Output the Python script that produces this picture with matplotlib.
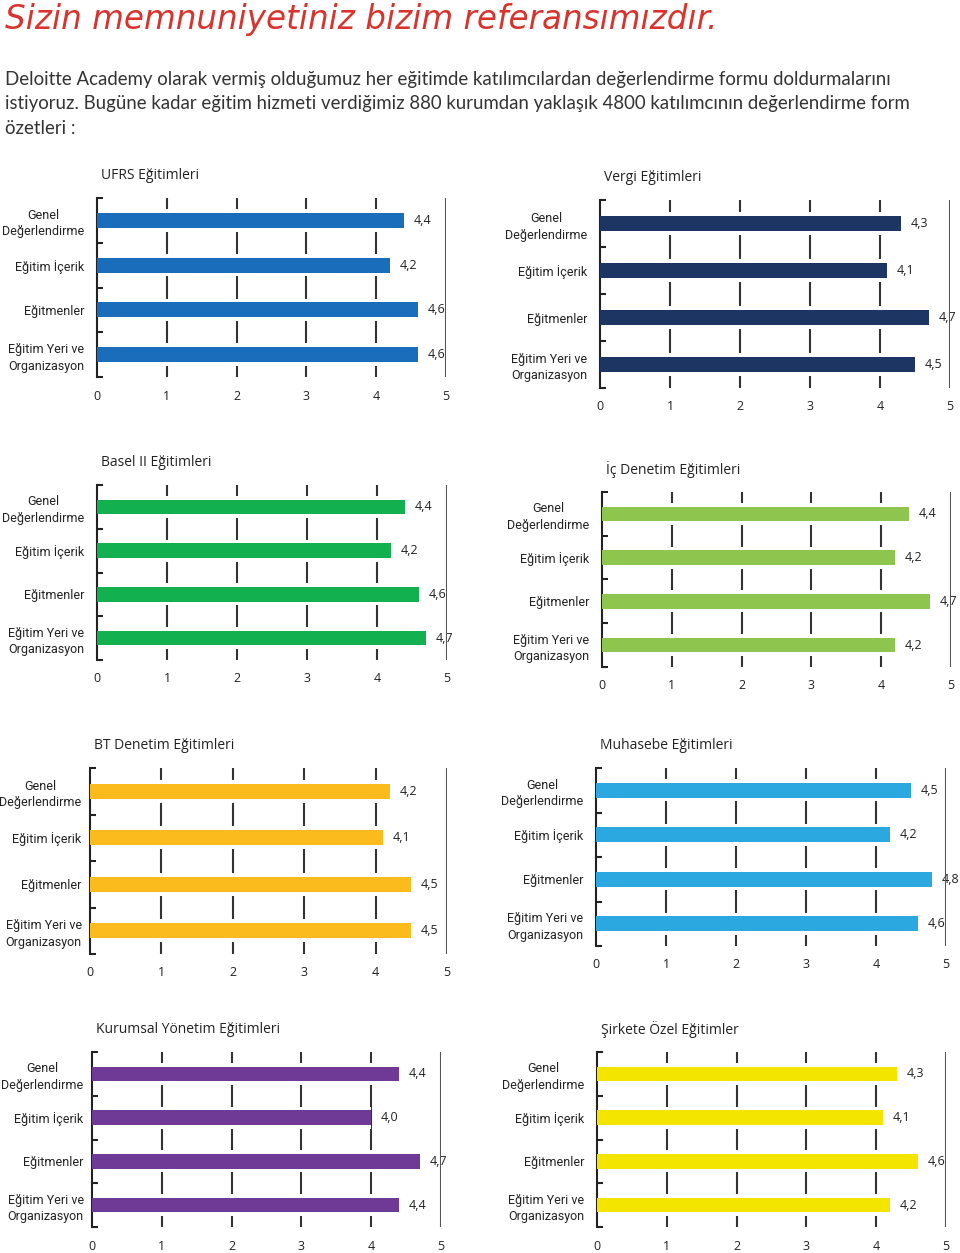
import numpy as np
import matplotlib
matplotlib.use('Agg')
import matplotlib.pyplot as plt
from matplotlib.ticker import FixedLocator

plt.rcParams['font.family'] = ['Open Sans', 'DejaVu Sans']

# --- data -------------------------------------------------------------
categories = ['Genel\nDeğerlendirme', 'Eğitim İçerik', 'Eğitmenler',
              'Eğitim Yeri ve\nOrganizasyon']

titles = ['UFRS Eğitimleri', 'Vergi Eğitimleri',
          'Basel II Eğitimleri', 'İç Denetim Eğitimleri',
          'BT Denetim Eğitimleri', 'Muhasebe Eğitimleri',
          'Kurumsal Yönetim Eğitimleri', 'Şirkete Özel Eğitimler']

ufrs = [4.4, 4.2, 4.6, 4.6]
vergi = [4.3, 4.1, 4.7, 4.5]
basel = [4.4, 4.2, 4.6, 4.7]
ic_denetim = [4.4, 4.2, 4.7, 4.2]
bt_denetim = [4.2, 4.1, 4.5, 4.5]
muhasebe = [4.5, 4.2, 4.8, 4.6]
kurumsal = [4.4, 4.0, 4.7, 4.4]
sirkete_ozel = [4.3, 4.1, 4.6, 4.2]

series = [ufrs, vergi, basel, ic_denetim, bt_denetim, muhasebe, kurumsal, sirkete_ozel]
colors = ['#1a6dba', '#1c3563', '#13b04f', '#8dc54e',
          '#fbbb1c', '#2aa8df', '#6f3a96', '#f4e500']

xticks = [0, 1, 2, 3, 4, 5]

# axes boxes in pixels: left, top, right, bottom
boxes = [(97, 198, 446, 377), (600, 200, 950, 388),
         (97, 485, 447, 660), (602, 492, 951, 667),
         (90, 768, 447, 954), (596, 768, 946, 946),
         (92, 1052, 441, 1227), (597, 1052, 946, 1227)]

W, H = 960, 1253
fig = plt.figure(figsize=(W / 100, H / 100), dpi=100)

fig.text(5 / W, 1 - 20 / H, 'Sizin memnuniyetiniz bizim referansımızdır.',
         color='#d8332d', fontsize=23.5, style='italic', va='center', ha='left',
         family='DejaVu Sans')

para = ['Deloitte Academy olarak vermiş olduğumuz her eğitimde katılımcılardan değerlendirme formu doldurmalarını',
        'istiyoruz. Bugüne kadar eğitim hizmeti verdiğimiz 880 kurumdan yaklaşık 4800 katılımcının değerlendirme form',
        'özetleri :']
for k, line in enumerate(para):
    fig.text(5 / W, 1 - (79 + 24.5 * k) / H, line, color='#333333', fontsize=13.4,
             va='center', ha='left', family=['Lato', 'DejaVu Sans'])

ypos = np.arange(len(categories))
for idx, (vals, col, title) in enumerate(zip(series, colors, titles)):
    l, t, r, b = boxes[idx]
    ax = fig.add_axes([l / W, 1 - b / H, (r - l) / W, (b - t) / H])
    ax.set_xlim(0, 5)
    ax.set_ylim(3.5, -0.5)

    for g in xticks[1:-1]:
        ax.axvline(g, color='#333333', lw=1.5, zorder=1)
    ax.axvline(5, color='#555555', lw=1.5, zorder=4)

    # white halo so grid lines break around the bars
    ax.barh(ypos, vals, height=0.5, color='white', zorder=2)
    ax.barh(ypos, vals, height=0.33, color=col, zorder=3)

    for y, v in zip(ypos, vals):
        ax.annotate(f'{v:.1f}'.replace('.', ','), xy=(v, y), xytext=(7, 0),
                    textcoords='offset points', va='center', ha='left',
                    fontsize=9, color='#222222', annotation_clip=False)

    for s in ['top', 'right', 'bottom']:
        ax.spines[s].set_visible(False)
    ax.spines['left'].set_color('#222222')
    ax.spines['left'].set_linewidth(1.5)

    ax.set_xticks(xticks)
    ax.set_xticklabels([str(x) for x in xticks])
    ax.tick_params(axis='x', length=0, pad=9, labelsize=9, labelcolor='#222222')

    ax.set_yticks(ypos)
    ax.set_yticklabels(categories, family=['Roboto', 'DejaVu Sans'])
    ax.yaxis.set_minor_locator(FixedLocator([-0.5, 0.5, 1.5, 2.5, 3.5]))
    ypad = 6 if l < 95 else 9
    ax.tick_params(axis='y', which='major', length=0, pad=ypad, labelsize=9,
                   labelcolor='#222222')
    ax.tick_params(axis='y', which='minor', direction='in', length=4,
                   width=1.5, color='#222222')
    for lab in ax.get_yticklabels():
        lab.set_multialignment('center')
        lab.set_linespacing(1.35)

    ax.annotate(title, xy=(0, 1), xycoords='axes fraction', xytext=(3, 16),
                textcoords='offset points', va='center', ha='left',
                fontsize=10, color='#222222')

fig.savefig('out.png', dpi=100)
